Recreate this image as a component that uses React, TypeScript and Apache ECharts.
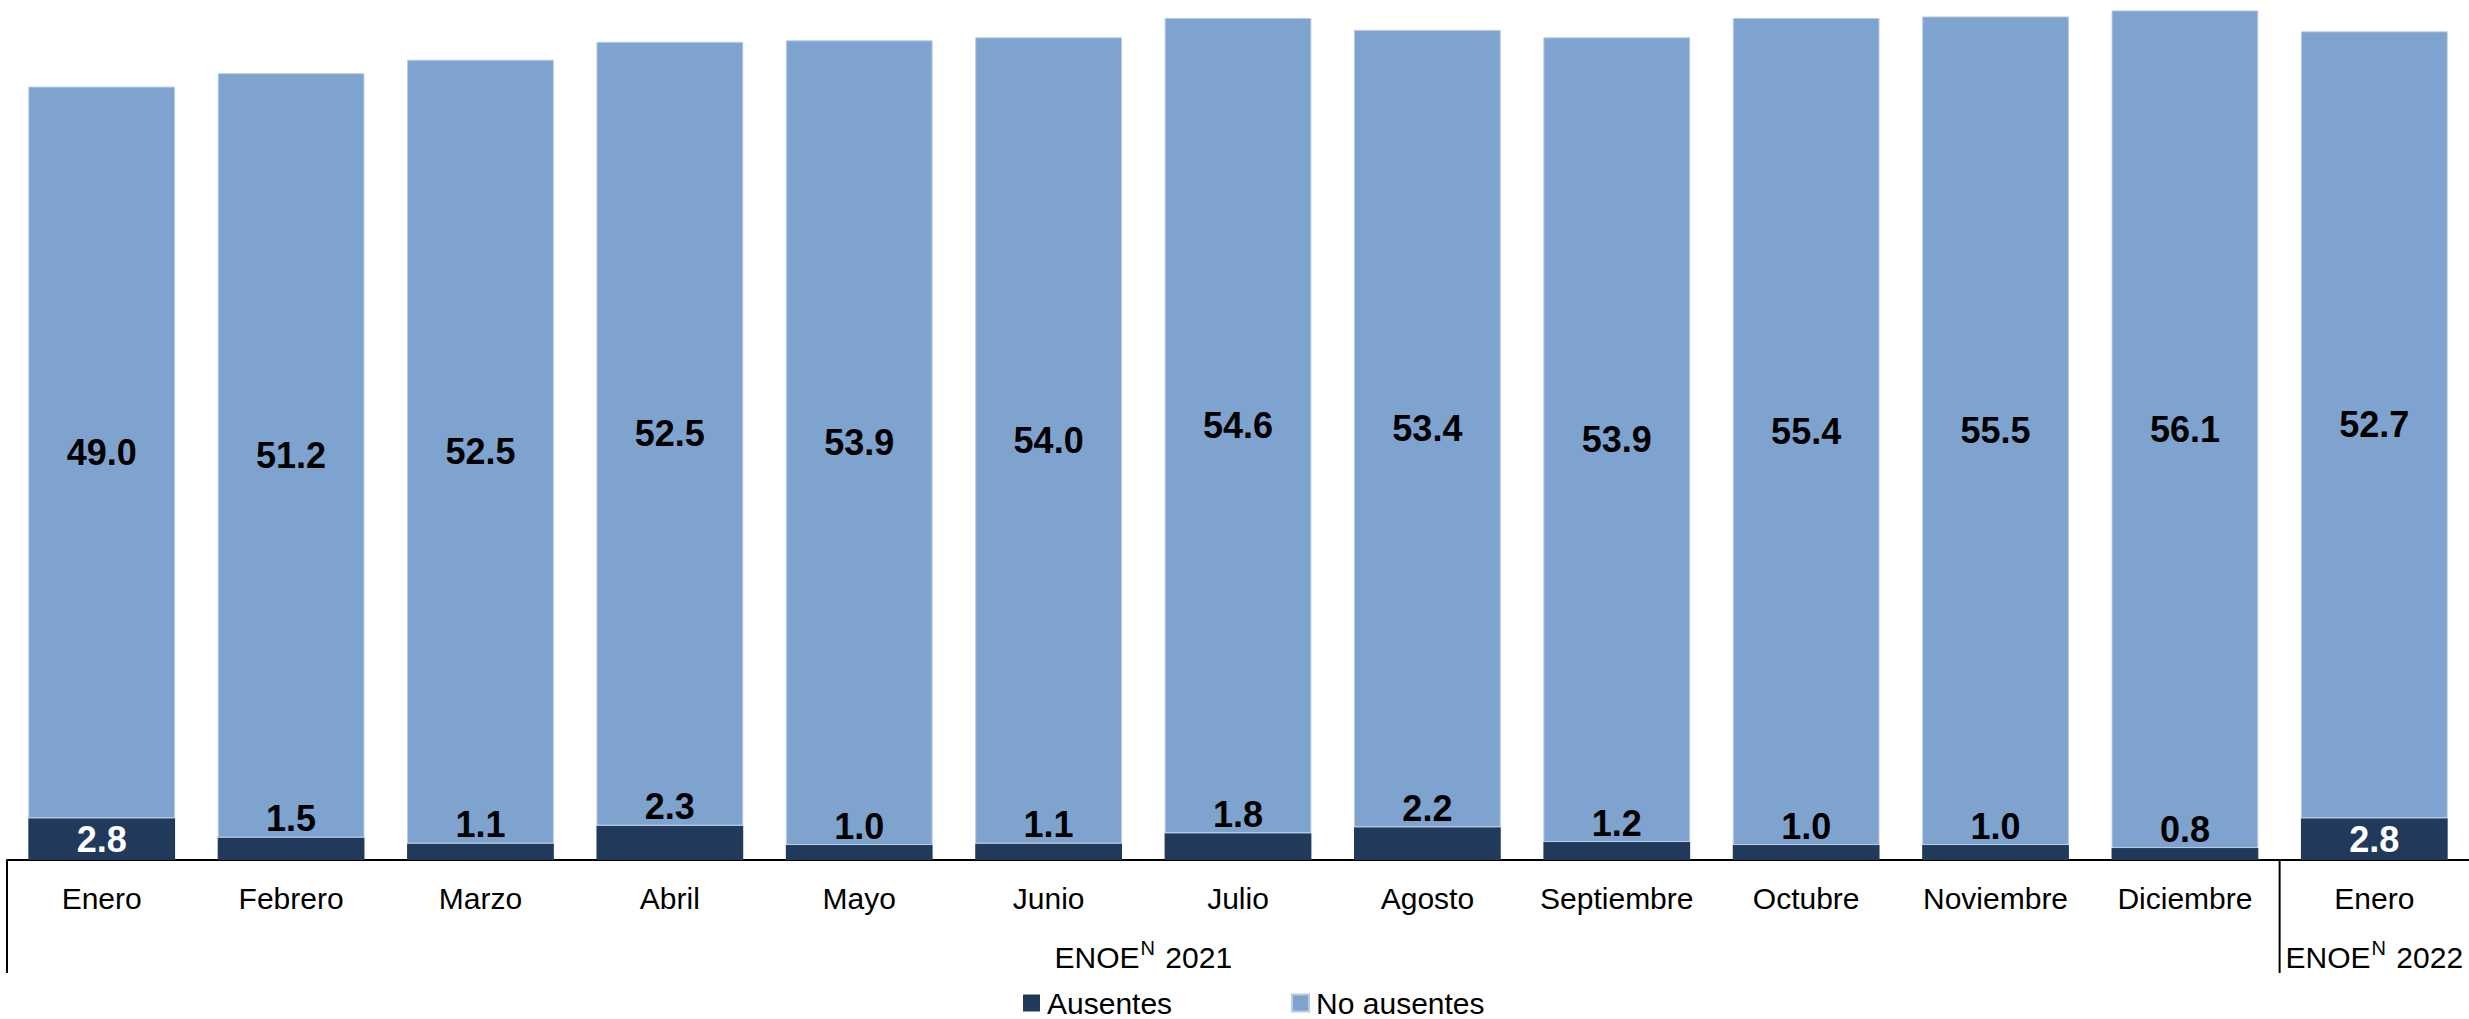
import React, { useEffect, useRef } from "react";
import * as echarts from "echarts";

const categories = ["Enero", "Febrero", "Marzo", "Abril", "Mayo", "Junio", "Julio", "Agosto", "Septiembre", "Octubre", "Noviembre", "Diciembre", "Enero"];
const ausentes = [2.8, 1.5, 1.1, 2.3, 1.0, 1.1, 1.8, 2.2, 1.2, 1.0, 1.0, 0.8, 2.8];
const noAusentes = [49.0, 51.2, 52.5, 52.5, 53.9, 54.0, 54.6, 53.4, 53.9, 55.4, 55.5, 56.1, 52.7];
const groupPrefix = "ENOE";
const groupSup = "N";
const groupYears = ["2021", "2022"];
const groupStart = [0, 12];
const groupEnd = [11, 12];

const FONT = "'Liberation Sans', Arial, sans-serif";
const DARK = "#213A5B";
const LIGHT = "#7EA3CF";

export default function App() {
  const ref = useRef<HTMLDivElement>(null);
  useEffect(() => {
    document.body.style.margin = "0";
    const chart = echarts.init(ref.current!, null, { renderer: "svg" });
    const valueLabel = {
      show: true,
      fontSize: 36,
      fontWeight: "bold",
      fontFamily: FONT,
      formatter: (p: any) => Number(p.value).toFixed(1),
    };
    chart.setOption({
      animation: false,
      textStyle: { fontFamily: FONT },
      grid: { left: 7, width: 2466, top: 0, height: 860 },
      legend: {
        left: 1023,
        top: 988,
        padding: 0,
        icon: "rect",
        itemWidth: 17,
        itemHeight: 17,
        itemGap: 119,
        textStyle: { fontSize: 30, color: "#000", fontFamily: FONT, lineHeight: 30, padding: [0, 0, 0, 2] },
        data: ["Ausentes", "No ausentes"],
      },
      xAxis: {
        type: "category",
        data: categories,
        axisLine: { lineStyle: { color: "#000", width: 2 } },
        axisTick: { show: false },
        axisLabel: { fontSize: 30, color: "#000", margin: 23, interval: 0, fontFamily: FONT },
      },
      yAxis: { type: "value", min: 0, max: 57.6, show: false, splitLine: { show: false } },
      series: [
        {
          name: "Ausentes",
          type: "bar",
          stack: "total",
          barCategoryGap: "22.5%",
          itemStyle: { color: DARK },
          label: { ...valueLabel, distance: 1 },
          data: ausentes.map((v) => ({
            value: v,
            label: v >= 2.5 ? { position: "inside", color: "#fff" } : { position: "top", color: "#000" },
          })),
        },
        {
          name: "No ausentes",
          type: "bar",
          stack: "total",
          barCategoryGap: "22.5%",
          itemStyle: { color: LIGHT, borderColor: "#b9cbe3", borderWidth: 1 },
          label: { ...valueLabel, position: "inside", color: "#000" },
          data: noAusentes,
        },
      ],
    });

    const cx = (i: number) => chart.convertToPixel({ xAxisIndex: 0 }, i) as number;
    const step = cx(1) - cx(0);
    const axisY = chart.convertToPixel({ yAxisIndex: 0 }, 0) as number;
    const graphics: any[] = [];
    groupYears.forEach((year, g) => {
      const xLine = cx(groupStart[g]) - step / 2;
      graphics.push({
        type: "line",
        shape: { x1: xLine, y1: axisY, x2: xLine, y2: axisY + 113 },
        style: { stroke: "#000", lineWidth: 2 },
      });
      graphics.push({
        type: "text",
        x: (cx(groupStart[g]) + cx(groupEnd[g])) / 2,
        y: axisY + 95,
        style: {
          text: `{b|${groupPrefix}}{s|${groupSup}}{b| ${year}}`,
          align: "center",
          verticalAlign: "middle",
          fill: "#000",
          rich: {
            b: { fontSize: 30, fontFamily: FONT, fill: "#000", lineHeight: 34, verticalAlign: "bottom" },
            s: { fontSize: 20, fontFamily: FONT, fill: "#000", lineHeight: 34, verticalAlign: "top", padding: [0, 2, 0, 1] },
          },
        },
      });
    });
    chart.setOption({ graphic: graphics });

    return () => chart.dispose();
  }, []);
  return <div ref={ref} style={{ position: "absolute", left: 0, top: 0, width: 2469, height: 1019 }} />;
}
